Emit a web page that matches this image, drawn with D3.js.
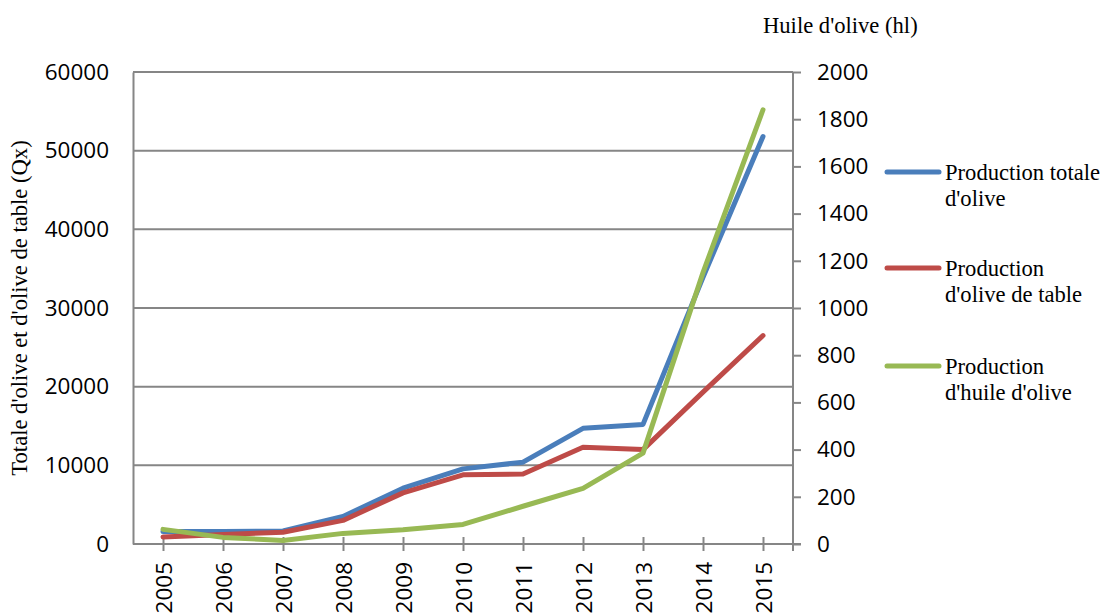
<!DOCTYPE html>
<html>
<head>
<meta charset="utf-8">
<script src="https://cdn.jsdelivr.net/npm/d3@7"></script>
<style>
  html, body { margin: 0; padding: 0; background: #fff; }
  svg { display: block; }
</style>
</head>
<body>
<svg id="chart" width="1100" height="616"></svg>
<script>
// Olive production, 2005–2015
const years = ["2005","2006","2007","2008","2009","2010","2011","2012","2013","2014","2015"];
// Left axis (Qx)
const totalOlive = [1600, 1600, 1650, 3500, 7100, 9550, 10400, 14700, 15200, 33900, 51800];
const tableOlive = [900, 1200, 1500, 3000, 6500, 8800, 8900, 12300, 12000, 19300, 26500];
// Right axis (hl)
const oliveOil = [62, 28, 15, 45, 60, 83, 160, 236, 385, 1150, 1840];

const leftTicks = [0, 10000, 20000, 30000, 40000, 50000, 60000];
const rightTicks = [0, 200, 400, 600, 800, 1000, 1200, 1400, 1600, 1800, 2000];

const seriesNames = ["Production totale|d'olive", "Production|d'olive de table", "Production|d'huile d'olive"];
const seriesColors = ["#4a7ebb", "#be4b48", "#98b954"];

const W = 1100, H = 616;
const plot = { left: 133, right: 793, top: 72, bottom: 544 };
const axisColor = "#868686";
const sansFont = "'Open Sans', 'Liberation Sans', sans-serif";
const serifFont = "'Liberation Serif', 'Times New Roman', serif";
const serifSize = 22.6;

const svg = d3.select("#chart");

const x = d3.scalePoint().domain(years).range([plot.left, plot.right]).padding(0.5);
const yL = d3.scaleLinear().domain([0, 60000]).range([plot.bottom, plot.top]);
const yR = d3.scaleLinear().domain([0, 2000]).range([plot.bottom, plot.top]);

// Horizontal gridlines (left scale)
svg.append("g")
  .selectAll("line")
  .data(leftTicks)
  .join("line")
  .attr("x1", plot.left).attr("x2", plot.right)
  .attr("y1", d => yL(d)).attr("y2", d => yL(d))
  .attr("stroke", axisColor).attr("stroke-width", 2);

// Left axis
const gL = svg.append("g").attr("transform", `translate(${plot.left},0)`)
  .call(d3.axisLeft(yL).tickValues(leftTicks).tickSize(0).tickPadding(24).tickFormat(d3.format("d")));
gL.select(".domain").attr("stroke", axisColor).attr("stroke-width", 2);
gL.selectAll("text").attr("font-family", sansFont).attr("font-size", 22.5).attr("fill", "#000");

// Right axis
const gR = svg.append("g").attr("transform", `translate(${plot.right},0)`)
  .call(d3.axisRight(yR).tickValues(rightTicks).tickSize(8).tickPadding(16).tickFormat(d3.format("d")));
gR.select(".domain").attr("stroke", axisColor).attr("stroke-width", 2)
  .attr("d", `M0,${plot.top}V${plot.bottom + 7}`);
gR.selectAll(".tick line").attr("stroke", axisColor).attr("stroke-width", 2);
gR.selectAll("text").attr("font-family", sansFont).attr("font-size", 22.5).attr("fill", "#000");

// Bottom axis
const gB = svg.append("g").attr("transform", `translate(0,${plot.bottom})`)
  .call(d3.axisBottom(x).tickSize(0).tickPadding(0));
gB.select(".domain").attr("stroke", axisColor).attr("stroke-width", 2)
  .attr("d", `M${plot.left},0H${plot.right + 8}`);
gB.selectAll(".tick line").remove();
gB.selectAll(".tick").append("line")
  .attr("y1", -7).attr("y2", 7)
  .attr("stroke", axisColor).attr("stroke-width", 2);
gB.selectAll("text")
  .attr("font-family", sansFont).attr("font-size", 22.5).attr("fill", "#000")
  .attr("text-anchor", "end")
  .attr("transform", "translate(0,18) rotate(-90)")
  .attr("x", 0).attr("y", 0).attr("dy", "0.36em");

// Series lines
const lineL = d3.line().x((d, i) => x(years[i])).y(d => yL(d));
const lineR = d3.line().x((d, i) => x(years[i])).y(d => yR(d));

const lines = [
  { values: totalOlive, gen: lineL, color: seriesColors[0] },
  { values: tableOlive, gen: lineL, color: seriesColors[1] },
  { values: oliveOil, gen: lineR, color: seriesColors[2] }
];

svg.append("g")
  .selectAll("path")
  .data(lines)
  .join("path")
  .attr("d", d => d.gen(d.values))
  .attr("fill", "none")
  .attr("stroke", d => d.color)
  .attr("stroke-width", 5)
  .attr("stroke-linejoin", "round")
  .attr("stroke-linecap", "round");

// Axis titles
svg.append("text")
  .attr("transform", `translate(27,${(plot.top + plot.bottom) / 2}) rotate(-90)`)
  .attr("text-anchor", "middle")
  .attr("font-family", serifFont).attr("font-size", serifSize)
  .attr("fill", "#000")
  .text("Totale d'olive et d'olive de table (Qx)");

svg.append("text")
  .attr("x", 763).attr("y", 33)
  .attr("font-family", serifFont).attr("font-size", serifSize)
  .attr("fill", "#000")
  .text("Huile d'olive (hl)");

// Legend
const legendY = [172, 268, 366];
const legend = svg.append("g");
seriesNames.forEach((name, i) => {
  const g = legend.append("g").attr("transform", `translate(0,${legendY[i]})`);
  g.append("line")
    .attr("x1", 887).attr("x2", 939)
    .attr("stroke", seriesColors[i]).attr("stroke-width", 5)
    .attr("stroke-linecap", "round");
  const parts = name.split("|");
  const t = g.append("text")
    .attr("font-family", serifFont).attr("font-size", serifSize)
    .attr("fill", "#000");
  parts.forEach((p, j) => {
    t.append("tspan").attr("x", 945).attr("y", 8 + j * 26).text(p);
  });
});
</script>
</body>
</html>
